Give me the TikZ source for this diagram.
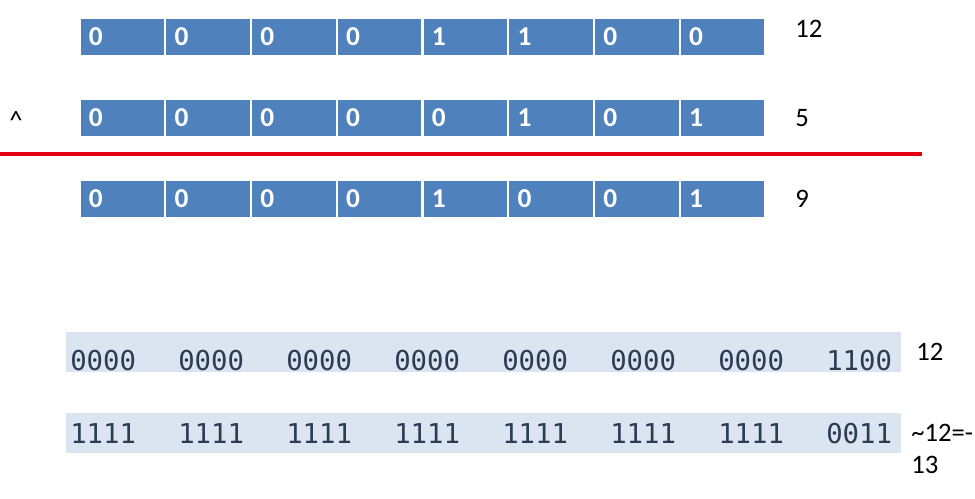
\documentclass[tikz,border=0pt]{standalone}
\usepackage{fontspec}
\setmainfont{Carlito}
\newfontfamily\monof{DejaVu Sans Mono}
\definecolor{cellblue}{HTML}{4F81BD}
\definecolor{barbg}{HTML}{DBE5F1}
\definecolor{monotxt}{HTML}{2E3B55}
\definecolor{redline}{HTML}{E3000F}
\begin{document}
\begin{tikzpicture}[x=0.75pt,y=-0.75pt,
  cell/.style={anchor=north west,fill=cellblue,draw=white,line width=1.2pt,
    minimum height=28.5pt,text width=50.3pt,inner xsep=6.75pt,inner ysep=0pt,align=left,
    text=white,font=\fontsize{20.5}{22}\selectfont\bfseries},
  lab/.style={anchor=west,inner sep=0pt,font=\fontsize{20}{22}\selectfont},
  bar/.style={anchor=north west,fill=barbg,inner sep=0pt,minimum width=626.25pt,minimum height=29.5pt},
  mono/.style={anchor=west,inner sep=0pt,text=monotxt,font=\monof\fontsize{20.5}{22}\selectfont}]
\useasboundingbox (0,0) rectangle (975,499);
\fill[white] (0,0) rectangle (975,499);
% top rows
\foreach \r/\y/\bits in {a/17/{0,0,0,0,1,1,0,0}, b/98/{0,0,0,0,0,1,0,1}, c/179/{0,0,0,0,1,0,0,1}}{
  \foreach \b [count=\i from 0] in \bits {
    \node[cell] (\r\i) at ({79+\i*85.75},\y) {\b};
  }
}
\node[lab] (l12) at (795,29) {12};
\node[lab] (l5) at (795,118) {5};
\node[lab] (l9) at (795,199) {9};
\node[lab] (xor) at (9,120) {\^{}};
\coordinate (rl) at (0,154);
\coordinate (rr) at (922,154);
\draw[redline,line width=2.3pt] (rl) -- (rr);
% bottom bars
\node[bar] (bar1) at (66,332) {};
\node[bar] (bar2) at (66,413) {};
\foreach \g [count=\i from 0] in {0000,0000,0000,0000,0000,0000,0000,1100}{
  \node[mono] (m\i) at ({70+\i*108},361) {\g};
}
\foreach \g [count=\i from 0] in {1111,1111,1111,1111,1111,1111,1111,0011}{
  \node[mono] (n\i) at ({70+\i*108},434) {\g};
}
\node[lab] (b12) at (916,352) {12};
\node[lab] (neg) at (911,433) {\textasciitilde12=-};
\node[lab] (n13) at (911,465) {13};
\end{tikzpicture}
\end{document}
